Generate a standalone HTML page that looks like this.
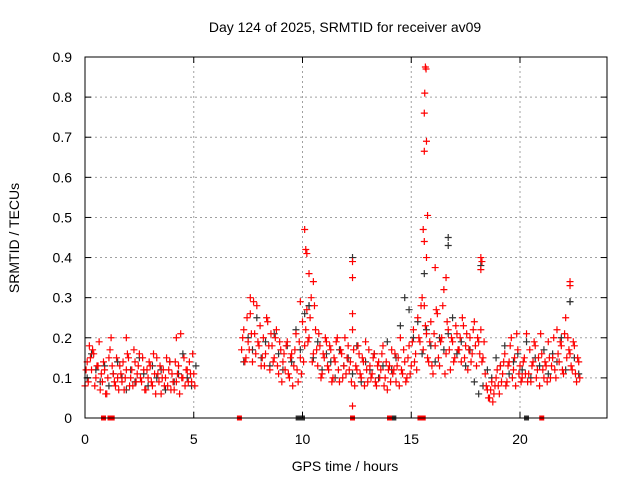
<!DOCTYPE html>
<html><head><meta charset="utf-8"><style>
body{margin:0;background:#fff;}
svg text{font-family:"Liberation Sans",sans-serif;font-size:14px;fill:#000;}
</style></head><body>
<svg id="chart" width="640" height="480" xmlns="http://www.w3.org/2000/svg">
<rect width="640" height="480" fill="#fff"/>
<g id="grid"></g>
<g id="marks"></g>
<rect x="85" y="57" width="522" height="361" fill="none" stroke="#000" stroke-width="1"/>
<g id="axes"></g>
<text x="345" y="32" text-anchor="middle">Day 124 of 2025, SRMTID for receiver av09</text>
<text x="345" y="471" text-anchor="middle">GPS time / hours</text>
<text x="19" y="238" text-anchor="middle" transform="rotate(-90 19 238)">SRMTID / TECUs</text>
</svg>
<script>
const xTicks=[0,5,10,15,20];
const yTicks=[0,0.1,0.2,0.3,0.4,0.5,0.6,0.7,0.8,0.9];
const yTickLabels=["0","0.1","0.2","0.3","0.4","0.5","0.6","0.7","0.8","0.9"];
const redSeg1Start=0, redSeg2Start=7.2, redStep=0.1;
const redSeg1=[0.08,0.14,0.18,0.12,0.16,0.10,0.13,0.07,0.09,0.12,0.06,0.15,0.20,0.11,0.08,0.10,0.13,0.09,0.07,0.12,0.15,0.10,0.08,0.14,0.11,0.16,0.09,0.12,0.07,0.10,0.13,0.08,0.11,0.15,0.09,0.06,0.12,0.10,0.08,0.14,0.11,0.07,0.09,0.13,0.21,0.10,0.08,0.12,0.14,0.09,0.11];
const redSeg1B=[0.12,0.09,0.15,0.17,0.08,0.13,0.19,0.11,0.14,0.06,0.10,0.17,0.13,0.09,0.15,0.07,0.11,0.14,0.10,0.16,0.08,0.12,0.17,0.09,0.13,0.10,0.15,0.07,0.12,0.14,0.09,0.16,0.06,0.11,0.13,0.10,0.08,0.15,0.12,0.07,0.09,0.14,0.11,0.06,0.10,0.15,0.12,0.09,0.11,0.16,0.08];
const redSeg2=[0.17,0.22,0.15,0.19,0.26,0.14,0.21,0.28,0.18,0.13,
0.20,0.16,0.24,0.12,0.18,0.15,0.22,0.11,0.17,0.14,
0.12,0.19,0.10,0.16,0.13,0.21,0.09,0.15,0.24,0.18,
0.27,0.20,0.30,0.16,0.22,0.13,0.18,0.11,0.15,0.19,
0.12,0.17,0.10,0.14,0.20,0.09,0.16,0.13,0.11,0.18,
0.14,0.22,0.08,0.12,0.16,0.10,0.14,0.19,0.09,0.13,
0.11,0.16,0.08,0.14,0.12,0.18,0.10,0.07,0.13,0.17,
0.12,0.09,0.15,0.20,0.11,0.14,0.10,0.18,0.13,0.22,
0.16,0.25,0.19,0.30,0.28,0.21,0.14,0.24,0.11,0.18,
0.26,0.13,0.20,0.32,0.16,0.22,0.12,0.19,0.15,0.21,
0.17,0.14,0.23,0.18,0.12,0.20,0.16,0.24,0.13,0.19,
0.22,0.15,0.11,0.07,0.05,0.09,0.06,0.10,0.08,0.13,
0.11,0.16,0.09,0.14,0.20,0.12,0.08,0.17,0.13,0.10,
0.15,0.21,0.11,0.09,0.14,0.18,0.12,0.08,0.16,0.10,
0.13,0.19,0.10,0.15,0.12,0.22,0.14,0.18,0.11,0.25,
0.20,0.16,0.12,0.18,0.09,0.14];
const redSeg2B=[0.20,0.14,0.25,0.17,0.21,0.29,0.16,0.19,0.23,0.15,
0.13,0.25,0.18,0.21,0.14,0.20,0.13,0.19,0.09,0.16,
0.18,0.11,0.15,0.08,0.17,0.12,0.19,0.11,0.14,0.22,
0.19,0.25,0.14,0.28,0.17,0.21,0.10,0.16,0.20,0.13,
0.18,0.09,0.15,0.19,0.12,0.17,0.10,0.20,0.15,0.12,
0.09,0.17,0.13,0.18,0.11,0.15,0.08,0.12,0.17,0.10,
0.15,0.09,0.13,0.10,0.16,0.08,0.14,0.12,0.09,0.11,
0.16,0.13,0.08,0.12,0.17,0.09,0.15,0.11,0.19,0.14,
0.12,0.20,0.28,0.17,0.23,0.15,0.19,0.13,0.21,0.27,
0.15,0.19,0.28,0.11,0.24,0.17,0.20,0.14,0.23,0.17,
0.20,0.25,0.15,0.21,0.17,0.14,0.22,0.18,0.20,0.16,
0.14,0.19,0.08,0.05,0.07,0.04,0.08,0.12,0.06,0.09,
0.14,0.08,0.13,0.18,0.10,0.15,0.21,0.11,0.09,0.14,
0.11,0.09,0.17,0.13,0.19,0.10,0.15,0.21,0.12,0.14,
0.09,0.15,0.13,0.20,0.10,0.16,0.19,0.12,0.21,0.15,
0.17,0.13,0.19,0.11,0.15,0.10];
const blackStep=0.2;
const blackSeg1=[0.10,0.16,0.12,0.09,0.13,0.08,0.11,0.14,0.10,0.07,0.12,0.09,0.15,0.11,0.08,0.13,0.10,0.12,0.07,0.14,0.09,0.11,0.16,0.10,0.08,0.13];
const blackSeg2=[0.14,0.20,0.17,0.25,0.15,0.19,0.13,0.21,0.16,0.12,
0.18,0.14,0.22,0.17,0.26,0.28,0.15,0.19,0.12,0.16,
0.14,0.10,0.17,0.13,0.15,0.11,0.18,0.09,0.14,0.12,
0.16,0.10,0.13,0.19,0.12,0.15,0.23,0.30,0.27,0.20,
0.24,0.16,0.22,0.18,0.14,0.20,0.17,0.21,0.25,0.16,
0.19,0.13,0.17,0.09,0.06,0.08,0.12,0.10,0.15,0.13,
0.18,0.11,0.14,0.16,0.12,0.19,0.10,0.15,0.13,0.17,
0.11,0.16,0.14,0.20,0.12,0.29,0.15,0.11];
const redSpikeT=[10.1,10.15,10.2,10.3,10.5,12.3,12.3,12.3,12.3,15.65,15.68,15.62,15.6,15.7,15.6,15.75,15.55,15.6,15.7,16.1,16.6,18.2,18.25,18.2,22.3,22.3,7.6,9.9,4.2,1.9];
const redSpikeV=[0.47,0.42,0.41,0.36,0.34,0.39,0.35,0.26,0.03,0.875,0.87,0.81,0.76,0.69,0.665,0.505,0.47,0.44,0.40,0.375,0.35,0.40,0.39,0.37,0.34,0.33,0.30,0.29,0.20,0.20];
const blackSpikeT=[10.3,12.3,15.6,16.7,16.7,18.2,22.3];
const blackSpikeV=[0.28,0.40,0.36,0.45,0.43,0.38,0.29];
const redZeroT=[0.85,1.15,1.25,7.1,12.3,14.0,15.4,15.55,21.0];
const blackZeroT=[9.8,10.0,14.2,20.3];

const X0=85,X1=607,Y0=418,Y1=57,XMAX=24,YMAX=0.9;
const xs=t=>X0+t/XMAX*(X1-X0);
const ys=v=>Y0-v/YMAX*(Y0-Y1);
const NS="http://www.w3.org/2000/svg";
const grid=document.getElementById('grid'),axes=document.getElementById('axes'),marks=document.getElementById('marks');
function mk(tag,attrs,parent){const e=document.createElementNS(NS,tag);for(const k in attrs)e.setAttribute(k,attrs[k]);parent.appendChild(e);return e;}
xTicks.forEach(t=>{const x=xs(t);
 if(t>0){const g=mk('line',{x1:x,y1:Y0,x2:x,y2:Y1,stroke:'#a0a0a0','stroke-dasharray':'2,3'},grid);
 
 }
 const tk=mk('line',{x1:x,y1:Y0,x2:x,y2:Y0-6,stroke:'#000'},axes);
 
 
 const tk2=mk('line',{x1:x,y1:Y1,x2:x,y2:Y1+6,stroke:'#000'},axes);
 
 
 const lb=mk('text',{x:x,y:Y0+26,'text-anchor':'middle'},axes);lb.textContent=String(t);
 
 
});
yTicks.forEach((v,i)=>{const y=ys(v);
 if(v>0){const g=mk('line',{x1:X0,y1:y,x2:X1,y2:y,stroke:'#a0a0a0','stroke-dasharray':'2,3'},grid);
 
 }
 const tk=mk('line',{x1:X0,y1:y,x2:X0+6,y2:y,stroke:'#000'},axes);
 
 
 const tk2=mk('line',{x1:X1,y1:y,x2:X1-6,y2:y,stroke:'#000'},axes);
 
 
 const lb=mk('text',{x:X0-13,y:y+5,'text-anchor':'end'},axes);lb.textContent=yTickLabels[i];
 
 
});
function plus(t,v,col,name){const x=xs(t),y=ys(v);
 const p=mk('path',{d:`M${x-3.5},${y}H${x+3.5}M${x},${y-3.5}V${y+3.5}`,stroke:col,'stroke-width':1.2,fill:'none'},marks);
 
 }
function zsq(t,col,name){const x=xs(t),y=ys(0);
 const r=mk('rect',{x:x-2.5,y:y-2.5,width:5,height:5,fill:col},marks);
 
 }
blackSeg1.forEach((v,i)=>plus(redSeg1Start+i*blackStep+0.1,v,'#333','black-point'));
blackSeg2.forEach((v,i)=>plus(redSeg2Start+i*blackStep+0.1,v,'#333','black-point'));
blackSpikeT.forEach((t,i)=>plus(t,blackSpikeV[i],'#333','black-point'));
blackZeroT.forEach(t=>zsq(t,'#333','black-zero-point'));
redSeg1.forEach((v,i)=>plus(redSeg1Start+i*redStep,v,'#ff0000','red-point'));
redSeg1B.forEach((v,i)=>plus(redSeg1Start+i*redStep+0.05,v,'#ff0000','red-point'));
redSeg2.forEach((v,i)=>plus(redSeg2Start+i*redStep,v,'#ff0000','red-point'));
redSeg2B.forEach((v,i)=>plus(redSeg2Start+i*redStep+0.05,v,'#ff0000','red-point'));
redSpikeT.forEach((t,i)=>plus(t,redSpikeV[i],'#ff0000','red-point'));
redZeroT.forEach(t=>zsq(t,'#ff0000','red-zero-point'));
</script>
</body></html>
